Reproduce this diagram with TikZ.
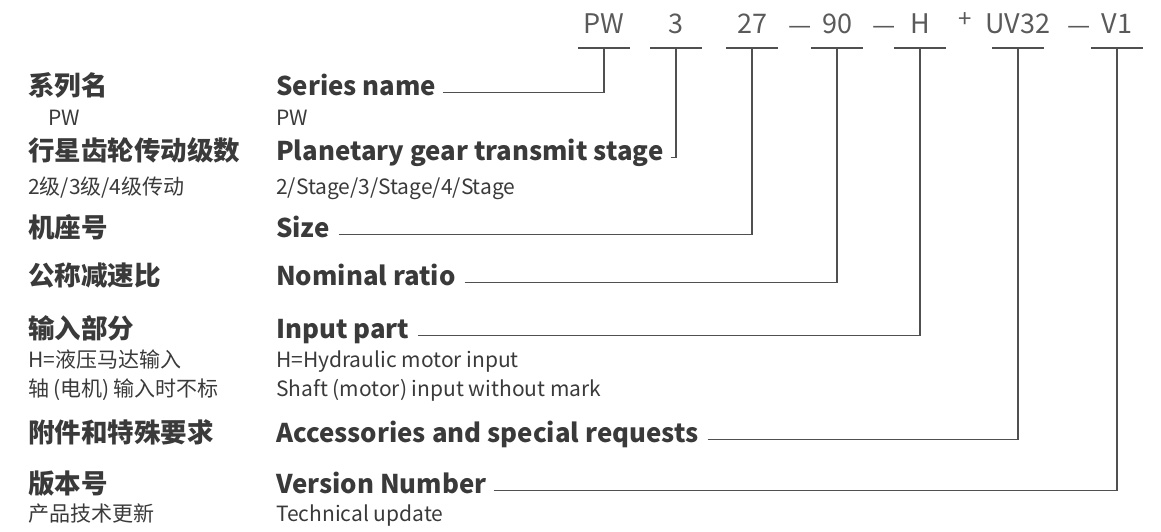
\documentclass[tikz,border=0pt]{standalone}
\usepackage{fontspec}
\setmainfont{Noto Sans CJK SC}
\definecolor{txt}{HTML}{3A3A3A}
\definecolor{codegray}{HTML}{5A5A5A}
\definecolor{lnkgray}{HTML}{505050}

\begin{document}
\begin{tikzpicture}[x=1pt,y=-1pt,
    hd/.style={anchor=base west,inner sep=0pt,text=txt,
      font=\fontsize{26.5}{28}\selectfont\bfseries},
    hden/.style={hd,font=\fontsize{25.8}{28}\selectfont\bfseries},
    sub/.style={anchor=base west,inner sep=0pt,text=txt,
      font=\fontsize{21}{23}\selectfont},
    code/.style={anchor=base,inner sep=0pt,text=codegray,
      font=\fontsize{27}{29}\selectfont},
    sep/.style={code,font=\fontsize{26}{28}\selectfont},
    lnk/.style={draw=lnkgray,line width=1.2pt}]
  \useasboundingbox (0,0) rectangle (1161,531);
  % code line on top
  \foreach \t/\n/\x in {PW/PW/604,3/st/676,27/sz/752,90/rt/837,H/in/920,
      UV32/ac/1018,V1/vn/1117}{
    \node[code] (k\n) at (\x,33) {\t};
    \coordinate (u\n) at (\x,48);
    \draw[lnk] ([xshift=-26pt]u\n) -- ([xshift=26pt]u\n);
  }
  \node[sep] (d1) at (800,34) {—};
  \node[sep] (d2) at (884,34) {—};
  \node[sep] (d3) at (1079,34) {—};
  \node[code,font=\fontsize{24}{26}\selectfont] (pl) at (965,27) {+};
  % left column (Chinese)
  \node[hd] (cnSer) at (28,95) {系列名};
  \node[sub] (cnSerS) at (48,125) {PW};
  \node[hd] (cnSt) at (28,160) {行星齿轮传动级数};
  \node[sub] (cnStS) at (28,194) {2级/3级/4级传动};
  \node[hd] (cnSz) at (28,237) {机座号};
  \node[hd] (cnRt) at (28,285) {公称减速比};
  \node[hd] (cnIn) at (28,338) {输入部分};
  \node[sub] (cnInS) at (28,367) {H=液压马达输入};
  \node[sub] (cnInT) at (28,396) {轴\hspace{4pt}(电机)\hspace{4pt}输入时不标};
  \node[hd] (cnAc) at (28,442) {附件和特殊要求};
  \node[hd] (cnVn) at (28,493) {版本号};
  \node[sub] (cnVnS) at (28,521) {产品技术更新};
  % right column (English)
  \node[hden] (enSer) at (276,95) {Series name};
  \node[sub] (enSerS) at (276,125) {PW};
  \node[hden] (enSt) at (276,160) {Planetary gear transmit stage};
  \node[sub] (enStS) at (276,194) {2/Stage/3/Stage/4/Stage};
  \node[hden] (enSz) at (276,237) {Size};
  \node[hden] (enRt) at (276,285) {Nominal ratio};
  \node[hden] (enIn) at (276,338) {Input part};
  \node[sub] (enInS) at (276,367) {H=Hydraulic motor input};
  \node[sub] (enInT) at (276,396) {Shaft (motor) input without mark};
  \node[hden] (enAc) at (276,442) {Accessories and special requests};
  \node[hden] (enVn) at (276,493) {Version Number};
  \node[sub] (enVnS) at (276,521) {Technical update};
  % connectors
  \draw[lnk] ([xshift=7pt]enSer.mid east) -| (uPW);
  \draw[lnk] ([xshift=7pt]enSt.mid east) -| (ust);
  \draw[lnk] ([xshift=9pt]enSz.mid east) -| (usz);
  \draw[lnk] ([xshift=9pt]enRt.mid east) -| (urt);
  \draw[lnk] ([xshift=9pt]enIn.mid east) -| (uin);
  \draw[lnk] ([xshift=9pt]enAc.mid east) -| (uac);
  \draw[lnk] ([xshift=7pt]enVn.mid east) -| (uvn);
\end{tikzpicture}
\end{document}
